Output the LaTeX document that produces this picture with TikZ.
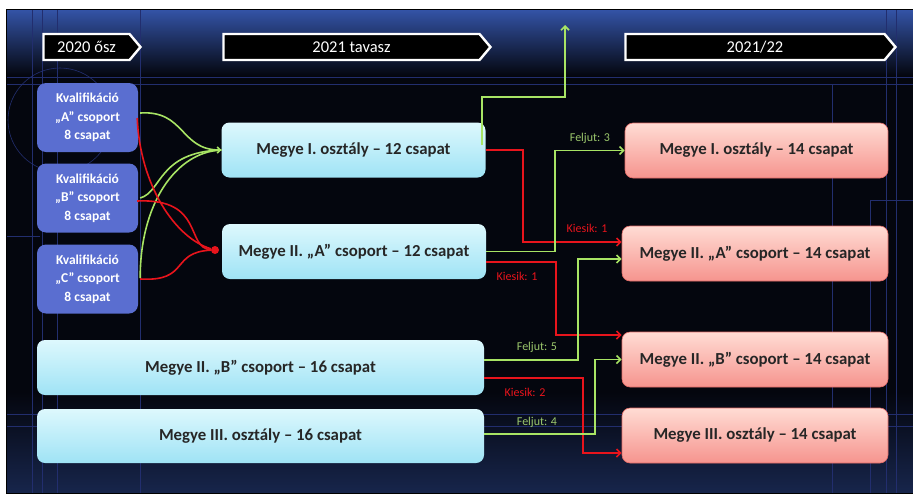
\documentclass[tikz,border=0pt]{standalone}
\usepackage{fontspec}
\setmainfont{Carlito}
\usetikzlibrary{arrows.meta,shapes.symbols}

\definecolor{bgdark}{HTML}{04060E}
\definecolor{bgblue}{HTML}{3454A8}
\definecolor{gridblue}{HTML}{222E6E}
\definecolor{kvblue}{HTML}{5A6ED0}
\definecolor{cyantop}{HTML}{DDF8FD}
\definecolor{cyanbot}{HTML}{9FE3F5}
\definecolor{pinktop}{HTML}{FFDCD4}
\definecolor{pinkbot}{HTML}{F6948E}
\definecolor{pinkline}{HTML}{E06A66}
\definecolor{upgreen}{HTML}{A8E464}
\definecolor{uptext}{HTML}{9CC86C}
\definecolor{downred}{HTML}{E8141C}

\tikzset{
  kval/.style={shape=rectangle,rounded corners=9pt,fill=kvblue,text=white,
    minimum width=101pt,minimum height=69pt,align=center,
    font=\fontsize{13.5}{18.5}\selectfont\bfseries},
  oldbox/.style={shape=rectangle,rounded corners=8pt,top color=cyantop,bottom color=cyanbot,
    minimum height=55pt,font=\fontsize{16.8}{18}\selectfont\bfseries,text=black!85},
  newbox/.style={shape=rectangle,rounded corners=8pt,top color=pinktop,bottom color=pinkbot,
    draw=pinkline,line width=0.6pt,minimum width=266pt,minimum height=55pt,
    font=\fontsize{16.8}{18}\selectfont\bfseries,text=black!85},
  season/.style={shape=signal,signal to=east,signal pointer angle=100,fill=black,draw=white,
    line width=2.4pt,minimum height=26pt,inner sep=0pt,text=white,
    font=\fontsize{16.5}{18}\selectfont},
  upline/.style={draw=upgreen,line width=1.7pt,-{Straight Barb[length=4pt,width=8pt]}},
  downline/.style={draw=downred,line width=1.7pt,-{Straight Barb[length=4pt,width=8pt]}},
  upcurve/.style={draw=upgreen,line width=1.6pt},
  downcurve/.style={draw=downred,line width=1.6pt},
  uplabel/.style={text=uptext,font=\fontsize{12}{14}\selectfont},
  downlabel/.style={text=downred,font=\fontsize{12}{14}\selectfont},
  grid/.style={draw=gridblue,line width=0.6pt}
}

\begin{document}
\begin{tikzpicture}[x=1pt,y=-1pt]
    \useasboundingbox (0,0) rectangle (913,493);
    % slide background
    \fill[bgdark] (6,9) rectangle (913,493);
    \shade[top color=bgblue,bottom color=bgdark] (6,9) rectangle (913,76);
    \shade[top color=bgdark,bottom color=bgblue!40!bgdark] (6,392) rectangle (913,493);
    \draw[grid] (6,77) -- (913,77);
    \draw[grid] (6,84) -- (913,84);
    \draw[grid] (32,9) -- (32,493);
    \draw[grid] (42,9) -- (42,493);
    \draw[grid] (57,9) -- (57,493);
    \draw[grid] (140,9) -- (140,493);
    \draw[grid] (832,84) -- (832,493);
    \draw[grid] (870,200) -- (870,493);
    \draw[grid] (886,9) -- (886,493);
    \draw[grid] (896,9) -- (896,493);
    \draw[grid] (870,200) -- (913,200);
    \draw[grid] (6,236) -- (40,236);
    \draw[grid] (6,414) -- (913,414);
    \draw[grid] (6,426) -- (913,426);
    \draw[grid] (60,120) circle (52);
    \draw (6,9) rectangle (913,493);

    % seasons
    \node[season,minimum width=97pt] (s20) at (86.5,47) {2020 ősz};
    \node[season,minimum width=267pt] (s21) at (351.5,47) {2021 tavasz};
    \node[season,minimum width=270pt] (s22) at (755,47) {2021/22};

    % 2020 autumn
    \node[kval] (kvA) at (87.5,117.5) {Kvalifikáció\\„A” csoport\\8 csapat};
    \node[kval] (kvB) at (87.5,198) {Kvalifikáció\\„B” csoport\\8 csapat};
    \node[kval] (kvC) at (87.5,279) {Kvalifikáció\\„C” csoport\\8 csapat};

    % 2021 spring
    \node[oldbox,minimum width=264pt] (m1) at (353.5,150) {Megye I. osztály – 12 csapat};
    \node[oldbox,minimum width=264pt] (m2a) at (354,251.5) {Megye II. „A” csoport – 12 csapat};
    \node[oldbox,minimum width=447pt] (m2b) at (260.5,367.5) {Megye II. „B” csoport – 16 csapat};
    \node[oldbox,minimum width=447pt,minimum height=54pt] (m3) at (260.5,436) {Megye III. osztály – 16 csapat};

    % 2021/22
    \node[newbox,minimum width=263pt] (n1) at (756.5,150.5) {Megye I. osztály – 14 csapat};
    \node[newbox] (n2a) at (755,253.5) {Megye II. „A” csoport – 14 csapat};
    \node[newbox] (n2b) at (755,359.5) {Megye II. „B” csoport – 14 csapat};
    \node[newbox] (n3) at (755,435.5) {Megye III. osztály – 14 csapat};

    % qualification
    \node[shape=circle,fill=downred,inner sep=0pt,minimum size=8pt] (dot) at (215,250) {};
    \path[upcurve,-{Straight Barb[length=3pt,width=6pt]}] ([xshift=2pt,yshift=4.5pt]kvA.east) .. controls (185,110) and (180,150) .. (m1.west);
    \path[upcurve] ([xshift=2pt]kvB.east) .. controls (162,192) and (158,152) .. (m1.west);
    \path[upcurve] ([xshift=2pt,yshift=1pt]kvC.east) .. controls (140,205) and (175,152) .. (m1.west);
    \path[downcurve] ([xshift=-1pt,yshift=-0.5pt]kvA.east) .. controls (140,185) and (175,238) .. (dot);
    \path[downcurve] ([xshift=-1pt,yshift=-3pt]kvB.east) .. controls (205,198) and (185,248) .. (dot);
    \path[downcurve] ([xshift=2pt]kvC.east) .. controls (190,282) and (170,252) .. (dot);

    % promotion and relegation
    \coordinate (top) at (565,25);
    \draw[upline] ([xshift=-3.5pt,yshift=5pt]m1.east) |- (565,97) -- (top);
    \draw[downline] (m1.east) -| (523,205) |- ([yshift=11.5pt]n2a.west);
    \draw[upline] (m2a.east) -| (555,200) |- (n1.west);
    \draw[downline] ([yshift=-10.5pt]m2a.east) -| (556,300) |- ([yshift=24.5pt]n2b.west);
    \draw[upline] ([yshift=7.5pt]m2b.east) -| (578,300) |- ([yshift=-5.5pt]n2a.west);
    \draw[downline] ([yshift=-10.5pt]m2b.east) -| (583,420) |- ([yshift=-17.5pt]n3.west);
    \draw[upline] ([yshift=2pt]m3.east) -| (595,400) |- (n2b.west);

    \node[uplabel] (f3) at (590,138) {Feljut: 3};
    \node[downlabel] (k1) at (587,228) {Kiesik: 1};
    \node[downlabel] (k1b) at (517,276) {Kiesik: 1};
    \node[uplabel] (f5) at (537,347) {Feljut: 5};
    \node[downlabel] (k2) at (525,392) {Kiesik: 2};
    \node[uplabel] (f4) at (537,422) {Feljut: 4};
\end{tikzpicture}
\end{document}
